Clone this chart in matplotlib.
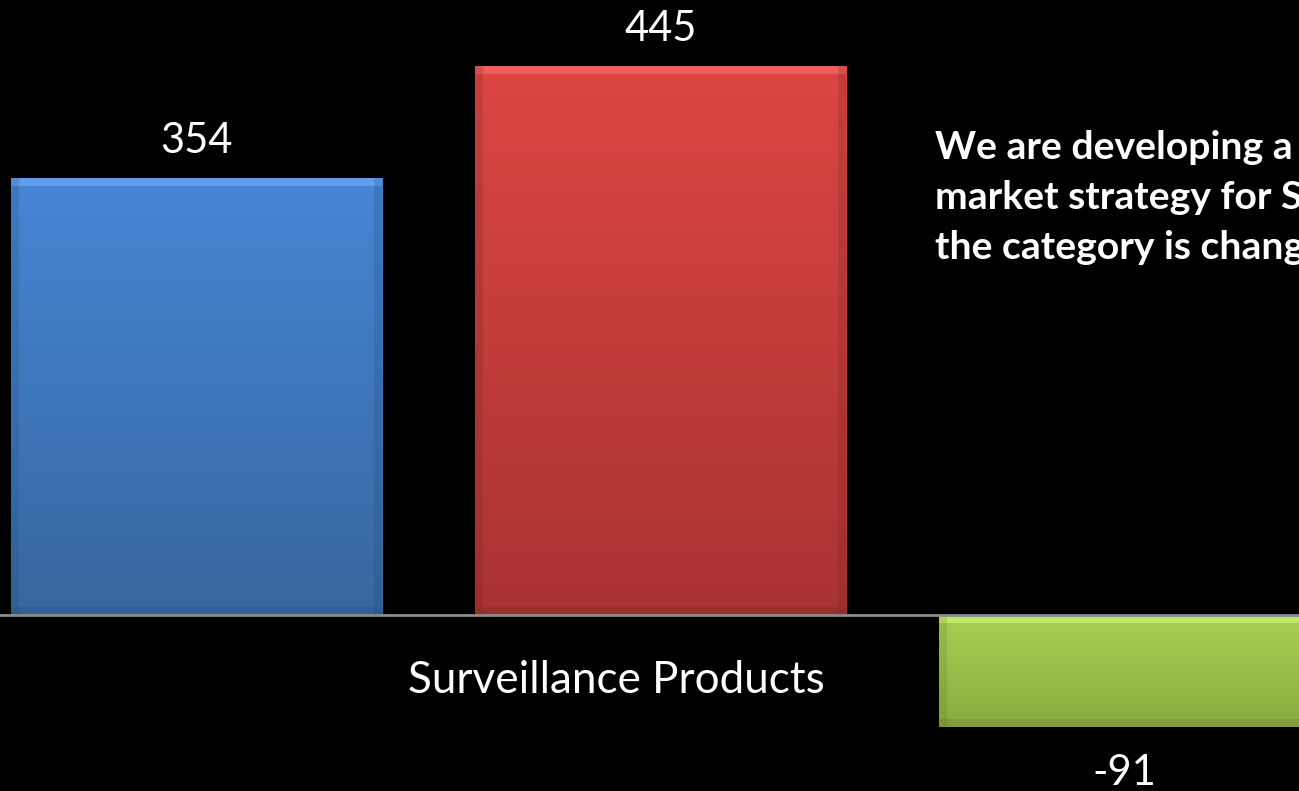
import numpy as np
import matplotlib
matplotlib.use("Agg")
import matplotlib.pyplot as plt
from matplotlib.colors import to_rgb

# Data
category = "Surveillance Products"
series_values = [354, 445, -91]
series_top_colors = ["#4686d6", "#dc4643", "#a9d152"]
series_bottom_colors = ["#36679f", "#a83331", "#8aab3f"]
bar_positions = [-1.0, 0.0, 1.0]
bar_width = 0.8

side_text = ["We are developing a", "market strategy for S", "the category is chang"]

plt.rcParams["font.family"] = ["Lato", "DejaVu Sans"]

fig = plt.figure(figsize=(12.99, 7.91), dpi=100, facecolor="black")
ax = fig.add_axes([0, 0, 1, 1])
ax.set_facecolor("black")
ax.set_xlim(-1.4235, 1.376)
ax.set_ylim(-142.6, 498.2)
ax.axis("off")

bars = ax.bar(bar_positions, series_values, width=bar_width,
              facecolor="none", edgecolor="none", zorder=2)


def gradient(top, bottom, n=256):
    t = np.linspace(0, 1, n)[:, None]
    a = np.array(to_rgb(top))[None, :]
    b = np.array(to_rgb(bottom))[None, :]
    g = a * (1 - t) + b * t
    return g[:, None, :]


px_y = 1 / 1.2345   # data units per pixel, vertical
px_x = 1 / 464      # data units per pixel, horizontal

for bar, val, ctop, cbot in zip(bars, series_values, series_top_colors,
                                series_bottom_colors):
    x0 = bar.get_x()
    w = bar.get_width()
    y0, y1 = sorted([0, val])
    # body: vertical gradient, lighter at the top
    im = ax.imshow(gradient(ctop, cbot), extent=(x0, x0 + w, y0, y1),
                   origin="upper", aspect="auto", zorder=2,
                   interpolation="bilinear")
    im.set_clip_path(bar)
    # bevel: light band along the top edge, faint darker sides and bottom
    light = tuple(min(1, c + 0.2) for c in to_rgb(ctop))
    ax.fill_between([x0, x0 + w], y1 - 8 * px_y, y1, color=light,
                    alpha=0.5, zorder=3, linewidth=0)
    dark = tuple(c * 0.7 for c in to_rgb(cbot))
    for sx in (x0, x0 + w - 8 * px_x):
        ax.fill_between([sx, sx + 8 * px_x], y0, y1, color=dark,
                        alpha=0.22, zorder=3, linewidth=0)
    ax.fill_between([x0, x0 + w], y0, y0 + 8 * px_y, color=dark,
                    alpha=0.25, zorder=3, linewidth=0)

    # value labels
    if val >= 0:
        ax.text(x0 + w / 2, val + 20.3, f"{val}", ha="center",
                va="baseline", color="white", fontsize=30)
    else:
        ax.text(x0 + w / 2, val - 47, f"{val}", ha="center",
                va="baseline", color="white", fontsize=30)

# baseline
ax.axhline(0, color="#8c8c8c", linewidth=2, zorder=4)

# category label
ax.text(-0.095, -53, category, ha="center", va="center", color="white",
        fontsize=31.7)

# commentary text
for i, line in enumerate(side_text):
    ax.text(0.591, 369.4 - i * 40.5, line, ha="left", va="baseline",
            color="white", fontsize=28.2, fontweight="bold")

fig.savefig("out.png", dpi=100, facecolor="black")
